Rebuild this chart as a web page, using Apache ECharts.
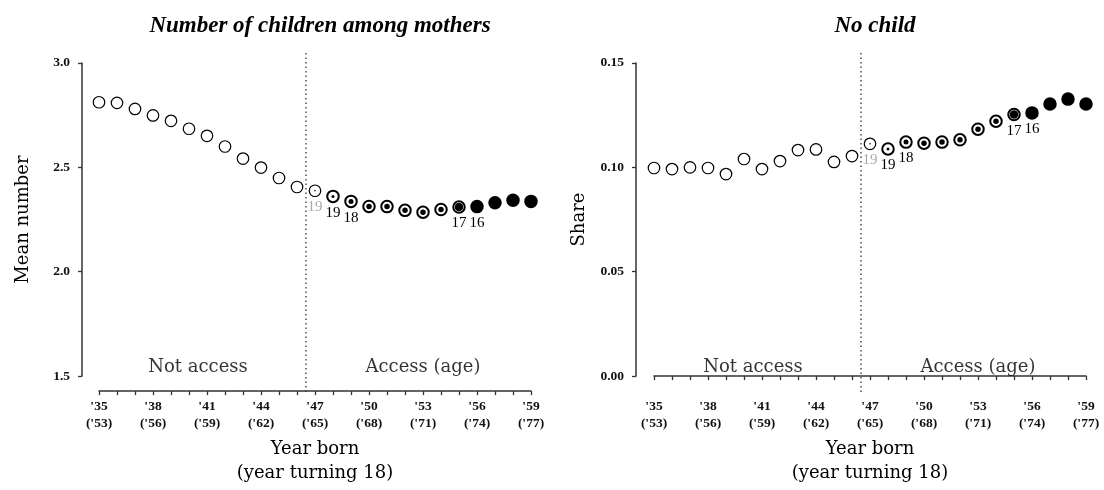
<!DOCTYPE html>
<html>
<head>
<meta charset="utf-8">
<script src="https://cdn.jsdelivr.net/npm/echarts@6/dist/echarts.min.js"></script>
<style>
  html, body { margin: 0; padding: 0; background: #fff; }
  #chart { width: 1104px; height: 490px; }
</style>
</head>
<body>
<div id="chart"></div>
<script>
// Birth cohorts 1935-1959
const years = [1935, 1936, 1937, 1938, 1939, 1940, 1941, 1942, 1943, 1944, 1945, 1946,
               1947, 1948, 1949, 1950, 1951, 1952, 1953, 1954, 1955, 1956, 1957, 1958, 1959];

// Mean number of children among mothers
const meanChildren = [2.812, 2.809, 2.780, 2.749, 2.723, 2.685, 2.651, 2.600, 2.542, 2.499, 2.449, 2.406,
                      2.388, 2.361, 2.337, 2.313, 2.312, 2.294, 2.285, 2.298, 2.310, 2.312, 2.330, 2.342, 2.337];

// Share of women with no child
const noChildShare = [0.0997, 0.0992, 0.1000, 0.0997, 0.0968, 0.1040, 0.0992, 0.1030, 0.1083, 0.1086, 0.1026, 0.1054,
                      0.1113, 0.1088, 0.1121, 0.1116, 0.1121, 0.1132, 0.1183, 0.1221, 0.1253, 0.1261, 0.1304, 0.1327, 0.1304];

// Degree of access for each cohort (0 = none, 1 = full)
const accessShare = [0, 0, 0, 0, 0, 0, 0, 0, 0, 0, 0, 0,
                     0.15, 0.3, 0.5, 0.55, 0.55, 0.55, 0.55, 0.55, 0.85, 1, 1, 1, 1];

// Age at which access became available
const accessAge = ['', '', '', '', '', '', '', '', '', '', '', '',
                   '19', '19', '18', '', '', '', '', '', '17', '16', '', '', ''];
const fadedAgeYear = 1947;

// Year the access regime starts (boundary between cohorts)
const accessBoundary = 1946.5;

// Region captions and their centres
const regionNames = ['Not access', 'Access (age)'];
const regionCentres = [1940.5, 1953];

// x-axis tick labels: year born (year turning 18)
const tickYears = [1935, 1938, 1941, 1944, 1947, 1950, 1953, 1956, 1959];
const tickLabels = ["'35\n('53)", "'38\n('56)", "'41\n('59)", "'44\n('62)", "'47\n('65)",
                    "'50\n('68)", "'53\n('71)", "'56\n('74)", "'59\n('77)"];

const panels = [
  { title: 'Number of children among mothers', yName: 'Mean number', values: meanChildren,
    yMin: 1.5, yMax: 3.0, yStep: 0.5, yDigits: 1, left: 99, right: 573, yNameGap: 50 },
  { title: 'No child', yName: 'Share', values: noChildShare,
    yMin: 0, yMax: 0.15, yStep: 0.05, yDigits: 2, left: 654, right: 18, yNameGap: 48 }
];

const SERIF = 'DejaVu Serif';
const TICKFONT = 'Liberation Serif';
const AXIS_COLOR = '#333';

const grids = [], xAxes = [], yAxes = [], series = [], titles = [];

panels.forEach((p, i) => {
  const g = i * 2;
  grids.push({ left: p.left, right: p.right, top: 63, bottom: 113 });
  // overlay grid for the dotted boundary line (reaches from above the plot to the x axis)
  grids.push({ left: p.left, right: p.right, top: 52, bottom: 98 });

  xAxes.push({
    gridIndex: g, type: 'value', min: 1935, max: 1959, interval: 1, offset: 15,
    name: 'Year born\n(year turning 18)', nameLocation: 'middle', nameGap: 24,
    nameTextStyle: { fontFamily: SERIF, fontSize: 18, color: '#000', lineHeight: 24, verticalAlign: 'top' },
    axisLine: { show: true, lineStyle: { color: AXIS_COLOR, width: 1.5 } },
    axisTick: { show: true, length: 4, lineStyle: { color: AXIS_COLOR, width: 1.3 } },
    axisLabel: {
      margin: 7, fontFamily: TICKFONT, fontSize: 13.5, fontWeight: 'bold', lineHeight: 17, color: '#111',
      formatter: v => { const k = tickYears.indexOf(Math.round(v)); return k >= 0 ? tickLabels[k] : ''; }
    },
    splitLine: { show: false }
  });
  xAxes.push({ gridIndex: g + 1, type: 'value', min: 1935, max: 1959, show: false });

  yAxes.push({
    gridIndex: g, type: 'value', min: p.yMin, max: p.yMax, interval: p.yStep, offset: i === 0 ? 17 : 18,
    name: p.yName, nameLocation: 'middle', nameGap: p.yNameGap, nameRotate: 90,
    nameTextStyle: { fontFamily: SERIF, fontSize: 18, color: '#000' },
    axisLine: { show: true, lineStyle: { color: AXIS_COLOR, width: 1.5 } },
    axisTick: { show: true, length: 4, lineStyle: { color: AXIS_COLOR, width: 1.3 } },
    axisLabel: { margin: 12, fontFamily: TICKFONT, fontSize: 13.5, fontWeight: 'bold', color: '#111',
                 formatter: v => v.toFixed(p.yDigits) },
    splitLine: { show: false }
  });
  yAxes.push({ gridIndex: g + 1, type: 'value', min: 0, max: 1, show: false });

  titles.push({
    text: p.title, left: (p.left + (1104 - p.right)) / 2, textAlign: 'center', top: 10,
    textStyle: { fontFamily: 'Liberation Serif', fontStyle: 'italic', fontWeight: 'bold', fontSize: 23, color: '#000' }
  });

  // outer rings (filled black when access is full)
  series.push({
    type: 'scatter', xAxisIndex: g, yAxisIndex: g, symbol: 'circle', symbolSize: 11.5, z: 3,
    data: years.map((yr, k) => ({
      value: [yr, p.values[k]],
      itemStyle: {
        color: accessShare[k] >= 1 ? '#000' : '#fff',
        borderColor: '#000',
        borderWidth: accessShare[k] >= 0.25 ? 2 : 1.2,
        opacity: 1
      },
      label: {
        show: accessAge[k] !== '',
        formatter: accessAge[k],
        color: yr === fadedAgeYear ? '#aaa' : '#000'
      }
    })),
    label: { position: 'bottom', distance: 2, fontFamily: TICKFONT, fontSize: 15 },
    emphasis: { disabled: true },
    silent: true
  });

  // inner dots sized by degree of access
  series.push({
    type: 'scatter', xAxisIndex: g, yAxisIndex: g, symbol: 'circle', z: 4,
    data: years.map((yr, k) => ({
      value: [yr, p.values[k]],
      symbolSize: accessShare[k] > 0 && accessShare[k] < 1 ? accessShare[k] * 10 : 0
    })),
    itemStyle: { color: '#000', opacity: 1 },
    emphasis: { disabled: true },
    silent: true
  });

  // region captions along the bottom of the plot
  series.push({
    type: 'scatter', xAxisIndex: g, yAxisIndex: g, symbolSize: 0, z: 2,
    data: regionNames.map((nm, k) => ({ value: [regionCentres[k], p.yMin], name: nm })),
    label: { show: true, position: 'top', distance: 0, formatter: d => d.name,
             fontFamily: SERIF, fontSize: 18, color: '#000' },
    emphasis: { disabled: true },
    silent: true
  });

  // dotted boundary line
  series.push({
    type: 'line', xAxisIndex: g + 1, yAxisIndex: g + 1, symbol: 'none', z: 1,
    data: [[accessBoundary, 0], [accessBoundary, 1]],
    lineStyle: { type: [1.5, 3], color: '#333', width: 1.3 },
    silent: true
  });
});

const chart = echarts.init(document.getElementById('chart'), null, { renderer: 'canvas' });
chart.setOption({
  animation: false,
  backgroundColor: '#fff',
  title: titles,
  grid: grids,
  xAxis: xAxes,
  yAxis: yAxes,
  series: series
});
</script>
</body>
</html>
